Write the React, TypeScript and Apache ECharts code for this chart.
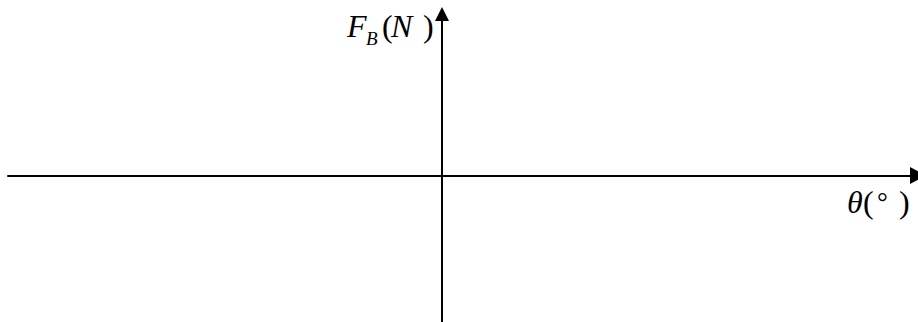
import React, { useEffect, useRef } from "react";
import * as echarts from "echarts";

// Axis extents (arbitrary units; the chart holds no data, only the two crossing axes)
const thetaRange: number[] = [-43.4, 47.6];
const forceRange: number[] = [-14.65, 16.15];
const xAxisLabel: string[] = ["θ", "(", "°", ")"];
const yAxisLabel: string[] = ["F", "B", "(", "N", ")"];

const SERIF = "'Liberation Serif', 'Times New Roman', serif";

export default function App() {
  const ref = useRef<HTMLDivElement>(null);
  useEffect(() => {
    document.body.style.margin = "0";
    if (!ref.current) return;
    const chart = echarts.init(ref.current, null, { renderer: "svg" });
    const t = (text: string, x: number, y: number, size: number, italic: boolean) => ({
      type: "text",
      x,
      y,
      silent: true,
      style: {
        text,
        fill: "#000",
        font: `${italic ? "italic " : ""}${size}px ${SERIF}`,
        align: "left",
        verticalAlign: "middle",
      },
    });
    chart.setOption({
      animation: false,
      backgroundColor: "#fff",
      grid: { left: 8, right: 0, top: 14, bottom: 0, containLabel: false },
      xAxis: {
        type: "value",
        min: thetaRange[0],
        max: thetaRange[1],
        axisLine: {
          show: true,
          onZero: true,
          symbol: ["none", "triangle"],
          symbolSize: [17, 16],
          lineStyle: { color: "#000", width: 2 },
        },
        axisTick: { show: false },
        axisLabel: { show: false },
        splitLine: { show: false },
      },
      yAxis: {
        type: "value",
        min: forceRange[0],
        max: forceRange[1],
        axisLine: {
          show: true,
          onZero: true,
          symbol: ["none", "triangle"],
          symbolSize: [14, 14],
          lineStyle: { color: "#000", width: 2 },
        },
        axisTick: { show: false },
        axisLabel: { show: false },
        splitLine: { show: false },
      },
      series: [{ type: "line", data: [] }],
      graphic: [
        t(yAxisLabel[0], 347, 26, 32, true),
        t(yAxisLabel[1], 366, 38, 19, true),
        t(yAxisLabel[2], 382, 26, 32, false),
        t(yAxisLabel[3], 391, 26, 32, true),
        t(yAxisLabel[4], 423, 26, 32, false),
        t(xAxisLabel[0], 847, 202, 32, true),
        t(xAxisLabel[1], 863, 202, 32, false),
        t(xAxisLabel[2], 877, 202, 27, false),
        t(xAxisLabel[3], 899, 202, 32, false),
      ],
    });
    return () => chart.dispose();
  }, []);
  return <div ref={ref} style={{ width: 918, height: 322 }} />;
}
